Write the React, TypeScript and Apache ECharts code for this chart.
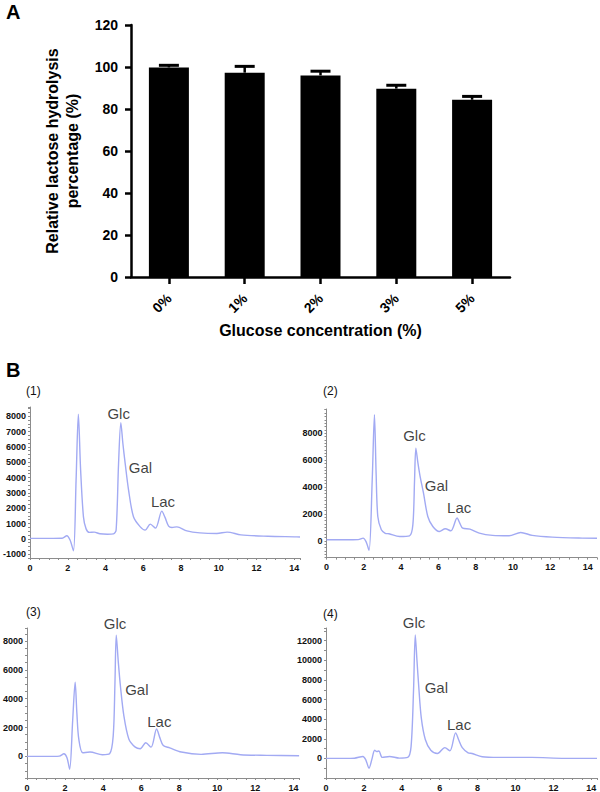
import React, { useEffect, useRef } from 'react';
import * as echarts from 'echarts';

const FONT = "'Liberation Sans', Arial, Helvetica, sans-serif";

// Panel A data
const glucoseCategories = ['0%', '1%', '2%', '3%', '5%'];
const hydrolysisMeans = [99.8, 97.3, 96.0, 89.7, 84.4];
const hydrolysisErrors = [1.0, 3.0, 2.0, 1.6, 1.6];

// Panel B chromatograms (retention time in min, detector signal)
const time1 = [0, 1.0, 1.7, 1.95, 2.12, 2.3, 2.44, 2.56, 2.68, 2.83, 2.97, 3.15, 3.4, 3.7, 4.1, 4.42, 4.56, 4.69, 4.81, 4.92, 5.04, 5.22, 5.48, 5.84, 6.1, 6.37, 6.65, 6.98, 7.15, 7.34, 7.52, 7.78, 8.31, 9.0, 9.9, 10.44, 11.17, 12.6, 14.0, 14.3];
const signal1 = [30, 30, 40, 200, -80, -780, 3830, 8130, 4500, 1430, 650, 420, 440, 330, 300, 320, 570, 4920, 7570, 6200, 4920, 3180, 1440, 780, 570, 960, 700, 1810, 1400, 830, 740, 780, 520, 390, 350, 440, 260, 170, 130, 120];

const time2 = [0, 1.0, 1.7, 1.96, 2.12, 2.28, 2.45, 2.57, 2.66, 2.75, 2.94, 3.15, 3.35, 3.92, 4.45, 4.63, 4.72, 4.79, 4.9, 5.02, 5.2, 5.43, 5.7, 6.05, 6.37, 6.67, 7.0, 7.15, 7.3, 7.69, 8.19, 8.9, 9.79, 10.41, 11.03, 12.1, 13.7, 14.5];
const signal2 = [75, 75, 90, 200, -60, -720, 4500, 9370, 5000, 1810, 820, 560, 520, 320, 370, 1200, 4500, 6890, 5800, 4780, 3540, 1810, 1060, 690, 890, 740, 1690, 1300, 940, 870, 570, 400, 370, 620, 400, 270, 200, 190];

const time3 = [0, 1.0, 1.7, 1.94, 2.1, 2.24, 2.4, 2.53, 2.62, 2.72, 2.93, 3.31, 3.96, 4.34, 4.53, 4.62, 4.69, 4.8, 4.91, 5.09, 5.35, 5.69, 5.95, 6.24, 6.52, 6.81, 6.98, 7.16, 7.5, 8.11, 9.15, 10.27, 11.22, 12.6, 14.3];
const signal3 = [0, 0, 20, 180, -100, -890, 2500, 5140, 3000, 1210, 250, 300, 115, 180, 1420, 5000, 8400, 6500, 4860, 2810, 1210, 640, 530, 940, 640, 1900, 1300, 750, 590, 300, 140, 250, 115, 70, 40];

const time4 = [0, 1.0, 1.5, 1.95, 2.1, 2.27, 2.42, 2.57, 2.68, 2.79, 2.97, 3.35, 3.87, 4.31, 4.49, 4.62, 4.71, 4.8, 4.89, 5.03, 5.24, 5.53, 5.88, 6.27, 6.54, 6.84, 7.0, 7.19, 7.5, 7.71, 8.24, 9.1, 10.85, 12.6, 14.3];
const signal4 = [0, 0, 20, 200, -150, -1000, -100, 830, 700, 750, 100, 200, 30, 100, 1230, 7000, 12600, 10000, 7430, 4100, 1930, 830, 500, 1100, 770, 2600, 1900, 1100, 570, 500, 170, 100, 100, 0, 0];

// Peak annotations
const peakNames = ['Glc', 'Gal', 'Lac'];
const annT1 = [4.72, 5.88, 7.07];
const annV1 = [8160, 4590, 2390];
const annT2 = [4.74, 5.92, 7.14];
const annV2 = [7780, 4100, 2430];
const annT3 = [4.65, 5.8, 6.98];
const annV3 = [9210, 4620, 2410];
const annT4 = [4.67, 5.85, 7.05];
const annV4 = [13770, 7130, 3400];

const panelTitles = ['(1)', '(2)', '(3)', '(4)'];

const LINE_COLOR = '#a2aaf3';
const AXIS_GRAY = '#8c8c8c';

const zip = (a: number[], b: number[]) => a.map((v, i) => [v, b[i]]);

export default function App() {
  const ref = useRef<HTMLDivElement>(null);

  useEffect(() => {
    if (!ref.current) return;
    document.body.style.margin = '0';
    const chart = echarts.init(ref.current, undefined, { renderer: 'svg' });

    const chroms = [
      { t: time1, v: signal1, at: annT1, av: annV1, xMax: 14.3, yMin: -1250, yMax: 8600, yInt: 250, yLab: 1000,
        grid: { left: 30, top: 407, width: 270, height: 151 } },
      { t: time2, v: signal2, at: annT2, av: annV2, xMax: 14.5, yMin: -1250, yMax: 9800, yInt: 250, yLab: 2000,
        grid: { left: 326.5, top: 409, width: 271, height: 148.6 } },
      { t: time3, v: signal3, at: annT3, av: annV3, xMax: 14.3, yMin: -1500, yMax: 8900, yInt: 500, yLab: 2000,
        grid: { left: 23.5, top: 628, width: 275.6, height: 151.8 } },
      { t: time4, v: signal4, at: annT4, av: annV4, xMax: 14.3, yMin: -2000, yMax: 13300, yInt: 1000, yLab: 2000,
        grid: { left: 326, top: 628, width: 272.7, height: 153 } },
    ];

    const grids: any[] = [{ left: 131, top: 25, width: 379, height: 252 }];
    const xAxes: any[] = [
      {
        type: 'category',
        gridIndex: 0,
        data: glucoseCategories,
        boundaryGap: true,
        axisLine: { show: true, onZero: false, lineStyle: { color: '#000', width: 2.5 } },
        axisTick: { show: true, alignWithLabel: true, length: 7, lineStyle: { color: '#000', width: 2.5 } },
        axisLabel: { rotate: 45, margin: 19, color: '#000', fontSize: 14, fontWeight: 'bold', fontFamily: FONT },
        name: 'Glucose concentration (%)',
        nameLocation: 'middle',
        nameGap: 45,
        nameTextStyle: { color: '#000', fontSize: 16, fontWeight: 'bold', fontFamily: FONT },
        splitLine: { show: false },
      },
    ];
    const yAxes: any[] = [
      {
        type: 'value',
        gridIndex: 0,
        min: 0,
        max: 120,
        interval: 20,
        axisLine: { show: true, onZero: false, lineStyle: { color: '#000', width: 2.5 } },
        axisTick: { show: true, length: 6, lineStyle: { color: '#000', width: 2.5 } },
        axisLabel: { margin: 13, color: '#000', fontSize: 14, fontWeight: 'bold', fontFamily: FONT },
        splitLine: { show: false },
        name: 'Relative lactose hydrolysis\npercentage (%)',
        nameLocation: 'middle',
        nameRotate: 90,
        nameGap: 49,
        nameTextStyle: { color: '#000', fontSize: 16, fontWeight: 'bold', fontFamily: FONT, lineHeight: 20 },
      },
    ];
    const series: any[] = [
      {
        type: 'bar',
        xAxisIndex: 0,
        yAxisIndex: 0,
        data: hydrolysisMeans,
        barWidth: 40,
        itemStyle: { color: '#000' },
        z: 2,
      },
      {
        type: 'custom',
        xAxisIndex: 0,
        yAxisIndex: 0,
        data: hydrolysisMeans.map((m, i) => [i, m + hydrolysisErrors[i], m]),
        encode: { x: 0, y: 1 },
        z: 3,
        renderItem: (params: any, api: any) => {
          const top = api.coord([api.value(0), api.value(1)]);
          const base = api.coord([api.value(0), api.value(2)]);
          const half = 10;
          return {
            type: 'group',
            children: [
              { type: 'line', shape: { x1: top[0], y1: top[1], x2: base[0], y2: base[1] }, style: { stroke: '#000', lineWidth: 2.5 } },
              { type: 'line', shape: { x1: top[0] - half, y1: top[1], x2: top[0] + half, y2: top[1] }, style: { stroke: '#000', lineWidth: 3 } },
            ],
          };
        },
      },
    ];

    chroms.forEach((c, k) => {
      const idx = k + 1;
      grids.push(c.grid);
      xAxes.push({
        type: 'value',
        gridIndex: idx,
        min: 0,
        max: c.xMax,
        interval: 0.5,
        axisLine: { show: true, onZero: false, lineStyle: { color: AXIS_GRAY, width: 1 } },
        axisTick: { show: true, length: 2, lineStyle: { color: AXIS_GRAY, width: 1 } },
        axisLabel: {
          margin: 5,
          color: '#111',
          fontSize: 9,
          fontWeight: 'bold',
          fontFamily: FONT,
          formatter: (v: number) => (Math.abs(v % 2) < 1e-6 && v <= 14 ? String(Math.round(v)) : ''),
        },
        splitLine: { show: false },
      });
      yAxes.push({
        type: 'value',
        gridIndex: idx,
        min: c.yMin,
        max: c.yMax,
        interval: c.yInt,
        axisLine: { show: true, onZero: false, lineStyle: { color: AXIS_GRAY, width: 1 } },
        axisTick: { show: true, length: 2, lineStyle: { color: AXIS_GRAY, width: 1 } },
        axisLabel: {
          margin: 4,
          color: '#111',
          fontSize: 9,
          fontWeight: 'bold',
          fontFamily: FONT,
          formatter: (v: number) => (v % c.yLab === 0 && v >= -1000 ? String(v) : ''),
        },
        splitLine: { show: false },
      });
      series.push({
        type: 'line',
        xAxisIndex: idx,
        yAxisIndex: idx,
        data: zip(c.t, c.v),
        showSymbol: false,
        smooth: 0.3,
        lineStyle: { color: LINE_COLOR, width: 1.4 },
        z: 2,
      });
      series.push({
        type: 'scatter',
        xAxisIndex: idx,
        yAxisIndex: idx,
        clip: false,
        symbol: 'circle',
        symbolSize: 1,
        itemStyle: { color: 'rgba(0,0,0,0)' },
        data: c.at.map((t, i) => ({ value: [t, c.av[i]], name: peakNames[i] })),
        label: {
          show: true,
          position: [0, 0],
          align: 'center',
          verticalAlign: 'middle',
          formatter: '{b}',
          color: '#0d0d0d',
          fontSize: 15,
          fontFamily: FONT,
        },
        z: 4,
      });
    });

    const titlePos = [
      { left: 26, top: 385 },
      { left: 323, top: 385 },
      { left: 26, top: 606 },
      { left: 323, top: 608 },
    ];

    const titles: any[] = [
      { text: 'A', left: 6, top: 2, padding: 0, textStyle: { fontSize: 20, fontWeight: 'bold', color: '#000', fontFamily: FONT } },
      { text: 'B', left: 6, top: 360, padding: 0, textStyle: { fontSize: 20, fontWeight: 'bold', color: '#000', fontFamily: FONT } },
      ...panelTitles.map((t, i) => ({
        text: t,
        left: titlePos[i].left,
        top: titlePos[i].top,
        padding: 0,
        textStyle: { fontSize: 12, fontWeight: 'normal', color: '#111', fontFamily: FONT },
      })),
    ];

    chart.setOption({
      animation: false,
      backgroundColor: '#fff',
      textStyle: { fontFamily: FONT },
      title: titles,
      grid: grids,
      xAxis: xAxes,
      yAxis: yAxes,
      series,
    });

    return () => chart.dispose();
  }, []);

  return (
    <div
      ref={ref}
      style={{ position: 'fixed', left: 0, top: 0, width: 600, height: 792, background: '#fff' }}
    />
  );
}
